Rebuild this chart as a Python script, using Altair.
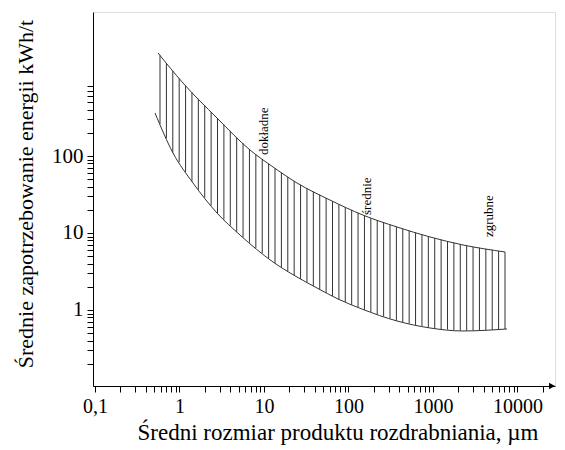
import altair as alt
import numpy as np
import pandas as pd

# Upper boundary of the band (product size in µm, energy in kWh/t)
x_upper = [0.557, 1.10, 2.78, 6.83, 12.8, 24.6, 60.4, 148, 375, 922, 2265, 7114]
y_upper = [2176, 887, 311.5, 119.6, 72.0, 44.6, 26.8, 17.1, 11.96, 8.88, 6.99, 5.67]

# Lower boundary of the band
x_lower = [0.513, 0.838, 1.445, 2.78, 5.20, 12.8, 24.6, 42.4, 75.1, 144, 375, 922, 2265, 7511]
y_lower = [361.7, 109.4, 44.6, 18.18, 9.42, 4.20, 2.68, 1.93, 1.39, 1.03, 0.72, 0.584, 0.534, 0.567]

# Text labels along the band
band_labels = ["dokładne", "średnie", "zgrubne"]
band_label_x = [10.0, 165.6, 4599]
band_label_y = [103, 17.13, 8.875]

# Axis ticks and labels
x_label_values = [0.1, 1, 10, 100, 1000, 10000]
x_label_texts = ["0,1", "1", "10", "100", "1000", "10000"]
y_label_values = [1, 10, 100]
y_label_texts = ["1", "10", "100"]
x_tick_values = [round(m * 10.0 ** k, 6) for k in range(-1, 5) for m in range(1, 10)] + [20000]
y_tick_values = [round(m * 10.0 ** k, 6) for k in range(-1, 3) for m in range(1, 10)
                 if 0.2 <= m * 10.0 ** k <= 800]

x_domain = [0.0947, 27790]
y_domain = [0.103, 7417]
n_hatch = 55

FONT = "Liberation Serif"


def label_expr(values, texts):
    expr = "''"
    for v, t in reversed(list(zip(values, texts))):
        expr = f"datum.value == {v} ? '{t}' : ({expr})"
    return expr


# hatch lines: vertical rules between the two boundaries
hx = np.geomspace(0.588, x_upper[-1], n_hatch)
lx = np.log10(hx)
hy_top = 10 ** np.interp(lx, np.log10(x_upper), np.log10(y_upper))
hy_bot = 10 ** np.interp(lx, np.log10(x_lower), np.log10(y_lower))
hatch_df = pd.DataFrame({"x": hx, "y": hy_top, "y2": hy_bot})

upper_df = pd.DataFrame({"x": x_upper, "y": y_upper})
lower_df = pd.DataFrame({"x": x_lower, "y": y_lower})
text_df = pd.DataFrame({"x": band_label_x, "y": band_label_y, "t": band_labels})
arrow_df = pd.DataFrame({"x": [25600], "y": [y_domain[0]]})

xscale = alt.Scale(type="log", domain=x_domain, nice=False)
yscale = alt.Scale(type="log", domain=y_domain, nice=False)

xaxis = alt.Axis(
    values=x_tick_values, labelExpr=label_expr(x_label_values, x_label_texts),
    title="Średni rozmiar produktu rozdrabniania, µm", grid=False,
    tickSize=6, tickColor="black", domainColor="black", labelColor="black",
    labelPadding=4, labelFont=FONT, labelFontSize=20, labelOverlap=False,
    labelFlush=False, labelBound=False,
    titleFont=FONT, titleFontSize=23, titleFontWeight="normal", titleColor="black",
    titleX=244.5, titleY=53, titleBaseline="alphabetic", titleAlign="center",
)
yaxis = alt.Axis(
    values=y_tick_values, labelExpr=label_expr(y_label_values, y_label_texts),
    title="Średnie zapotrzebowanie energii kWh/t", grid=False,
    tickSize=6, tickColor="black", domainColor="black", labelColor="black",
    labelPadding=4, labelFont=FONT, labelFontSize=21, labelOverlap=False,
    labelFlush=False, labelBound=False,
    titleFont=FONT, titleFontSize=22, titleFontWeight="normal", titleColor="black",
    titleAngle=270, titleX=-61, titleY=181.5, titleBaseline="alphabetic", titleAlign="center",
)

X = alt.X("x:Q", scale=xscale, axis=xaxis)
Y = alt.Y("y:Q", scale=yscale, axis=yaxis)

hatch = alt.Chart(hatch_df).mark_rule(color="#333333", strokeWidth=1).encode(
    x=X, y=Y, y2="y2:Q")
upper = alt.Chart(upper_df).mark_line(color="#333333", strokeWidth=1, interpolate="monotone").encode(
    x=X, y=Y)
lower = alt.Chart(lower_df).mark_line(color="#333333", strokeWidth=1, interpolate="monotone").encode(
    x=X, y=Y)
texts = alt.Chart(text_df).mark_text(angle=270, align="left", baseline="middle",
                                     font=FONT, fontSize=13, color="black").encode(
    x=X, y=Y, text="t:N")
arrow = alt.Chart(arrow_df).mark_point(shape="triangle-right", filled=True, size=45,
                                       color="black", opacity=1).encode(x=X, y=Y)

chart = alt.layer(hatch, upper, lower, texts, arrow).properties(
    width=462, height=374,
    autosize=alt.AutoSizeParams(type="none"),
    padding={"left": 85, "top": 4, "right": 2, "bottom": 62},
).configure_view(stroke=None).configure(background="white")

chart.save("out.html", embed_options={"renderer": "svg", "actions": False})
